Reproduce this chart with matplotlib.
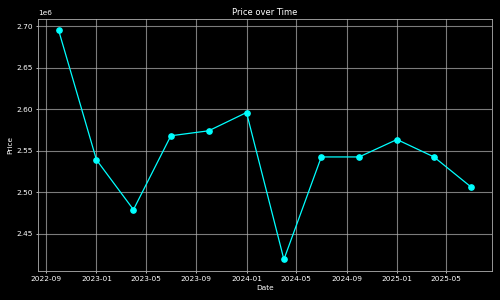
import matplotlib
matplotlib.use('Agg')
import matplotlib.pyplot as plt
import matplotlib.dates as mdates
import pandas as pd

dates = pd.to_datetime(['2022-10-01', '2023-01-01', '2023-04-01', '2023-07-01',
                        '2023-10-01', '2024-01-01', '2024-04-01', '2024-07-01',
                        '2024-10-01', '2025-01-01', '2025-04-01', '2025-07-01'])
prices = [2.695e6, 2.539e6, 2.479e6, 2.568e6, 2.574e6, 2.596e6,
          2.419e6, 2.5425e6, 2.5425e6, 2.5635e6, 2.5425e6, 2.506e6]

plt.style.use('dark_background')
fig, ax = plt.subplots(figsize=(5, 3), dpi=100)
ax.plot(dates, prices, color='cyan', marker='o', markersize=3.8, linewidth=0.9)
ax.set_title('Price over Time', fontsize=6, pad=3)
ax.set_xlabel('Date', fontsize=5.3, labelpad=2)
ax.set_ylabel('Price', fontsize=5.3, labelpad=2)
ax.tick_params(labelsize=5.3, length=1.75, pad=1.75, width=0.5)
ax.yaxis.get_offset_text().set_fontsize(5.3)
ax.xaxis.set_major_locator(mdates.MonthLocator(bymonth=[1, 5, 9]))
ax.xaxis.set_major_formatter(mdates.DateFormatter('%Y-%m'))
ax.grid(True, color='#b0b0b0', alpha=0.7, linewidth=0.8)
for s in ax.spines.values():
    s.set_color('#b0b0b0')
    s.set_linewidth(0.6)
fig.subplots_adjust(left=0.076, right=0.984, top=0.937, bottom=0.097)
fig.savefig('out.png')
